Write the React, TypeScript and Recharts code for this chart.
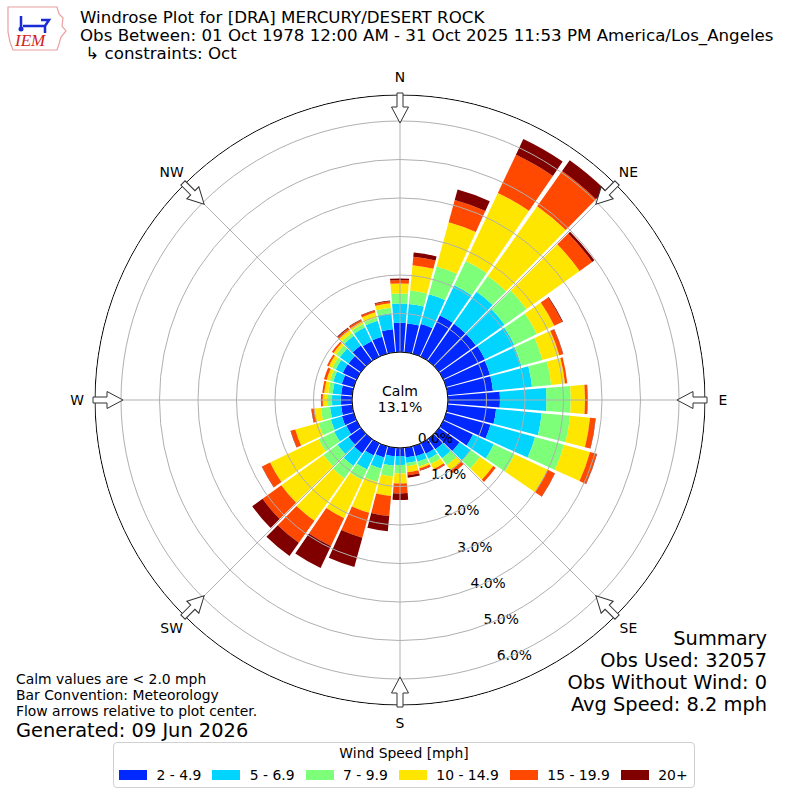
import React from 'react';
import { RadialBarChart, RadialBar, PolarAngleAxis, PolarRadiusAxis, PolarGrid } from 'recharts';

// direction bins (degrees the wind blows from)
const directions = [
  0, 10, 20, 30, 40, 50, 60, 70, 80, 90, 100, 110,
  120, 130, 140, 150, 160, 170, 180, 190, 200, 210, 220, 230,
  240, 250, 260, 270, 280, 290, 300, 310, 320, 330, 340, 350,
];

// percent of observations in each speed bin, per direction
const speed2to5 = [
  0.76, 0.75, 0.8, 1.18, 1.18, 1.18, 1.2, 1.18, 1.18, 1.35, 1.26, 1.19,
  0.85, 0.65, 0.33, 0.3, 0.27, 0.25, 0.21, 0.22, 0.3, 0.35, 0.45, 0.4,
  0.3, 0.32, 0.29, 0.29, 0.29, 0.32, 0.4, 0.39, 0.5, 0.45, 0.46, 0.6,
];
const speed5to7 = [
  0.5, 0.51, 0.8, 0.87, 1.02, 0.92, 0.85, 0.85, 1.02, 1.21, 1.19, 1.2,
  0.6, 0.35, 0.29, 0.15, 0.15, 0.15, 0.23, 0.25, 0.3, 0.4, 0.4, 0.35,
  0.35, 0.3, 0.29, 0.23, 0.22, 0.23, 0.2, 0.28, 0.31, 0.4, 0.43, 0.42,
];
const speed7to10 = [
  0.26, 0.35, 0.75, 0.7, 0.5, 0.7, 0.65, 0.57, 0.5, 0.63, 0.74, 0.78,
  0.6, 0.3, 0.22, 0.15, 0.13, 0.08, 0.22, 0.28, 0.36, 0.3, 0.4, 0.45,
  0.45, 0.33, 0.24, 0.13, 0.11, 0.09, 0.1, 0.12, 0.09, 0.1, 0.09, 0.14,
];
const speed10to15 = [
  0.26, 0.66, 1.19, 1.95, 2.22, 1.7, 0.5, 0.45, 0.36, 0.37, 0.52, 0.7,
  0.95, 0.42, 0.17, 0.15, 0.05, 0.16, 0.26, 0.51, 0.83, 1.1, 1.35, 1.35,
  1.4, 0.63, 0.17, 0.11, 0.11, 0.09, 0.1, 0.08, 0.09, 0.07, 0.14, 0.12,
];
const speed15to20 = [
  0.09, 0.22, 0.6, 1.1, 1.12, 0.4, 0.23, 0.1, 0.06, 0.06, 0.14, 0.18,
  0.2, 0.08, 0.09, 0.05, 0.05, 0.08, 0.26, 0.52, 0.67, 0.8, 0.7, 0.6,
  0.23, 0.12, 0.07, 0.05, 0.05, 0.07, 0.05, 0.05, 0.06, 0.05, 0.05, 0.05,
];
const speed20plus = [
  0.04, 0.11, 0.28, 0.45, 0.34, 0.07, 0.02, 0.01, 0, 0.01, 0.01, 0.01,
  0.01, 0, 0, 0.01, 0.01, 0.06, 0.17, 0.4, 0.79, 0.63, 0.42, 0.33,
  0.01, 0.01, 0.01, 0, 0, 0, 0, 0, 0.02, 0.01, 0.01, 0.02,
];

const speedBins = [
  { key: 's1', label: '2 - 4.9', color: '#0028ff', values: speed2to5 },
  { key: 's2', label: '5 - 6.9', color: '#00d4ff', values: speed5to7 },
  { key: 's3', label: '7 - 9.9', color: '#7dff7a', values: speed7to10 },
  { key: 's4', label: '10 - 14.9', color: '#ffe600', values: speed10to15 },
  { key: 's5', label: '15 - 19.9', color: '#ff4800', values: speed15to20 },
  { key: 's6', label: '20+', color: '#800000', values: speed20plus },
];

const radiusTicks = [0, 1, 2, 3, 4, 5, 6];

const compassPoints = [
  { label: 'N', deg: 0 },
  { label: 'NE', deg: 45 },
  { label: 'E', deg: 90 },
  { label: 'SE', deg: 135 },
  { label: 'S', deg: 180 },
  { label: 'SW', deg: 225 },
  { label: 'W', deg: 270 },
  { label: 'NW', deg: 315 },
];

const CX = 400;
const CY = 400;
const R_IN = 48; // calm circle
const R_OUT = 305; // plot frame
const R_AXIS = 317.5; // where the 7% end of the radius scale sits
const FONT = '"DejaVu Sans", sans-serif';

const data = directions.map((d, i) => {
  const row: any = { dir: String(d) };
  speedBins.forEach((b) => {
    row[b.key] = b.values[i];
  });
  return row;
});

const RadiusTick = (props: any) => {
  const { x, y, payload } = props;
  return (
    <text
      x={x + 19}
      y={y - 7}
      textAnchor="middle"
      dominantBaseline="central"
      fontSize={13.9}
      fontFamily={FONT}
      fill="#000"
    >
      {Number(payload.value).toFixed(1)}%
    </text>
  );
};

// hollow flow arrow pointing toward the centre, drawn pointing up then rotated
const arrowPath = 'M -3 -307 L 3 -307 L 3 -293 L 8.5 -293 L 0 -277 L -8.5 -293 L -3 -293 Z';

const IemLogo = () => (
  <svg width={62} height={50} style={{ position: 'absolute', left: 5, top: 4 }}>
    <path
      d="M 3 3 L 52 3 L 54 10 L 58 14 L 57 22 L 61 27 L 56 33 L 54 40 L 52 46 L 8 46 L 5 38 L 3 28 Z"
      fill="none"
      stroke="#e8a0a0"
      strokeWidth={1.2}
    />
    <path d="M 18 22 L 40 22 M 36 16 L 44 16 L 40 22 L 40 29 M 16 12 L 16 24" stroke="#1a2bd6" strokeWidth={2.5} fill="none" />
    <circle cx={16} cy={25} r={2.5} fill="#1a2bd6" />
    <text x={10} y={42} fontSize={17} fontStyle="italic" fontFamily="Liberation Serif, serif" fill="#d42020">
      IEM
    </text>
  </svg>
);

const App: React.FC = () => {
  return (
    <div
      style={{
        position: 'absolute',
        left: 0,
        top: 0,
        width: 800,
        height: 800,
        background: '#fff',
        fontFamily: FONT,
        color: '#000',
        overflow: 'hidden',
      }}
    >
      <IemLogo />

      {/* Header */}
      <div style={{ position: 'absolute', left: 80, top: 9, fontSize: 16.67, lineHeight: '18px', whiteSpace: 'pre' }}>
        <div>Windrose Plot for [DRA] MERCURY/DESERT ROCK</div>
        <div>Obs Between: 01 Oct 1978 12:00 AM - 31 Oct 2025 11:53 PM America/Los_Angeles</div>
        <div> ↳ constraints: Oct</div>
      </div>

      <div style={{ position: 'absolute', left: 0, top: 0 }}>
        <RadialBarChart
          width={800}
          height={800}
          cx={CX}
          cy={CY}
          innerRadius={R_IN}
          outerRadius={R_AXIS}
          startAngle={85}
          endAngle={-275}
          data={data}
          layout="centric"
          barCategoryGap="7%"
          margin={{ top: 0, right: 0, bottom: 0, left: 0 }}
        >
          <PolarAngleAxis type="category" dataKey="dir" tick={false} tickLine={false} axisLine={false} />
          {speedBins.map((b) => (
            <RadialBar
              key={b.key}
              dataKey={b.key}
              name={b.label}
              stackId="wind"
              fill={b.color}
              isAnimationActive={false}
            />
          ))}
          <PolarGrid
            gridType="circle"
            stroke="#b0b0b0"
            strokeWidth={1}
            polarAngles={[90, 45, 0, -45, -90, -135, -180, -225]}
            zIndex={600}
          />
          <PolarGrid
            gridType="circle"
            stroke="#000"
            strokeWidth={1}
            radialLines={false}
            polarRadius={[R_IN, R_OUT]}
            zIndex={610}
          />
          <PolarRadiusAxis
            type="number"
            domain={[0, 7]}
            allowDataOverflow
            ticks={radiusTicks}
            angle={-70}
            axisLine={false}
            tick={<RadiusTick />}
          />
        </RadialBarChart>
      </div>

      <svg width={800} height={800} style={{ position: 'absolute', left: 0, top: 0, pointerEvents: 'none' }}>
        {/* keep the spokes inside the frame */}
        <circle cx={CX} cy={CY} r={312} fill="none" stroke="#fff" strokeWidth={12.6} />
        <text x={CX} y={391} textAnchor="middle" dominantBaseline="central" fontSize={14} fontFamily={FONT}>
          Calm
        </text>
        <text x={CX} y={407} textAnchor="middle" dominantBaseline="central" fontSize={14} fontFamily={FONT}>
          13.1%
        </text>
        {compassPoints.map((c) => {
          const a = (c.deg * Math.PI) / 180;
          return (
            <g key={c.label}>
              <path
                d={arrowPath}
                transform={`translate(${CX},${CY}) rotate(${c.deg})`}
                fill="#fff"
                stroke="#333"
                strokeWidth={1}
              />
              <text
                x={CX + 323 * Math.sin(a)}
                y={CY - 323 * Math.cos(a)}
                textAnchor="middle"
                dominantBaseline="central"
                fontSize={13.9}
                fontFamily={FONT}
              >
                {c.label}
              </text>
            </g>
          );
        })}
      </svg>

      {/* Notes bottom left */}
      <div style={{ position: 'absolute', left: 16, top: 671, fontSize: 13.9, lineHeight: '16px' }}>
        <div>Calm values are &lt; 2.0 mph</div>
        <div>Bar Convention: Meteorology</div>
        <div>Flow arrows relative to plot center.</div>
      </div>
      <div style={{ position: 'absolute', left: 16, top: 722, fontSize: 19.4, lineHeight: '18px' }}>
        Generated: 09 Jun 2026
      </div>

      {/* Summary bottom right */}
      <div
        style={{
          position: 'absolute',
          right: 33,
          top: 628,
          fontSize: 19.4,
          lineHeight: '22px',
          textAlign: 'right',
        }}
      >
        <div>Summary</div>
        <div>Obs Used: 32057</div>
        <div>Obs Without Wind: 0</div>
        <div>Avg Speed: 8.2 mph</div>
      </div>

      {/* Legend */}
      <div
        style={{
          position: 'absolute',
          left: 113,
          top: 742,
          width: 582,
          height: 46,
          border: '1px solid #d0d0d0',
          borderRadius: 4,
          boxSizing: 'border-box',
        }}
      >
        <div style={{ position: 'absolute', left: 0, right: 0, top: 2, textAlign: 'center', fontSize: 13.9 }}>
          Wind Speed [mph]
        </div>
        <div
          style={{
            position: 'absolute',
            left: 5,
            top: 24,
            display: 'flex',
            alignItems: 'center',
            fontSize: 13.9,
            whiteSpace: 'pre',
          }}
        >
          {speedBins.map((b) => (
            <div key={b.key} style={{ display: 'flex', alignItems: 'center', marginRight: 11 }}>
              <span style={{ display: 'inline-block', width: 28, height: 10, background: b.color, marginRight: 9.5 }} />
              <span>{b.label}</span>
            </div>
          ))}
        </div>
      </div>
    </div>
  );
};

export default App;
